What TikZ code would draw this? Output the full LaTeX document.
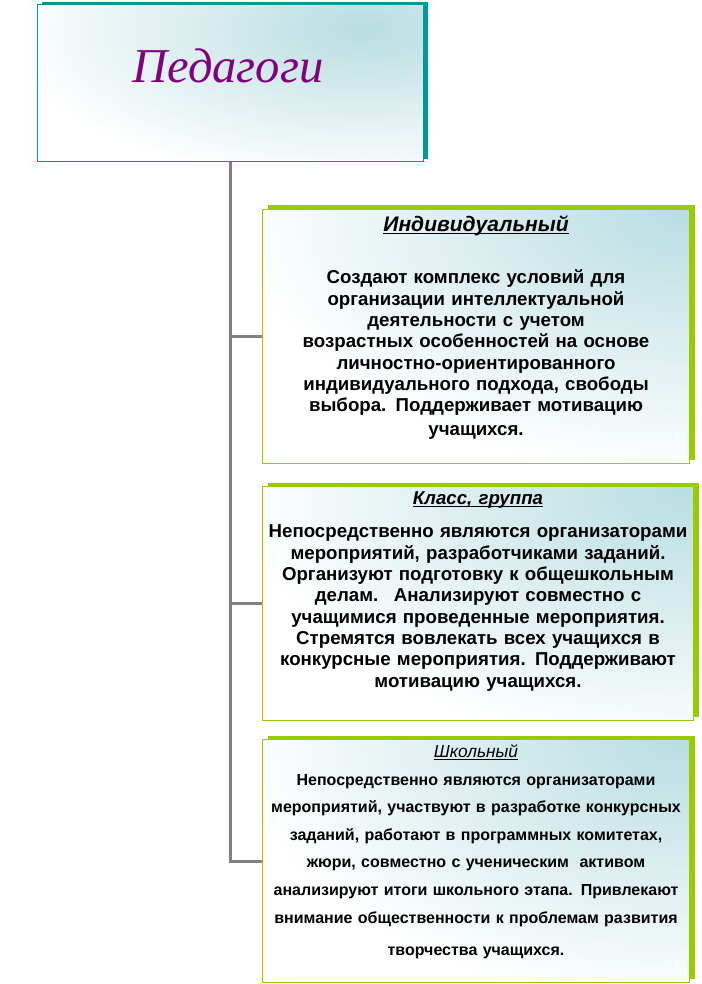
\documentclass[tikz,border=0pt]{standalone}
\usepackage{fontspec}
\setmainfont{Liberation Sans}
\newfontfamily\titleserif{Liberation Serif}
\usetikzlibrary{positioning,shadows}

\definecolor{tealedge}{RGB}{0,153,153}
\definecolor{limeedge}{RGB}{153,204,0}
\definecolor{paletint}{RGB}{184,221,225}
\definecolor{plum}{RGB}{128,0,128}
\definecolor{trunkgray}{RGB}{128,128,128}

% underlined heading, line just under the baseline
\newcommand\ulhead[1]{{\setbox0\hbox{#1}\rlap{\rule[-2pt]{\wd0}{0.75pt}}\box0}}

\begin{document}
\begin{tikzpicture}[
    x=0.75pt, y=-0.75pt,
    tintbox/.style={rectangle, inner sep=0pt, line width=0.75pt, fill=white},
    headbox/.style={tintbox, draw=tealedge, minimum width=289.5pt, minimum height=117.75pt,
        path picture={\shade[inner color=paletint, outer color=white]
            ([xshift=-45pt, yshift=-18pt]path picture bounding box.north east) ellipse [x radius=270pt, y radius=115pt];},
        drop shadow={shadow xshift=3.75pt, shadow yshift=2.6pt, fill=tealedge, opacity=1}},
    leafbox/.style={tintbox, draw=limeedge, minimum width=320.25pt,
        path picture={\shade[inner color=paletint, outer color=white]
            (path picture bounding box.north east) ellipse [x radius=340pt, y radius=200pt];},
        drop shadow={shadow xshift=4pt, shadow yshift=3pt, fill=limeedge, opacity=1}},
    titletext/.style={font=\titleserif\itshape\fontsize{36.5}{40}\selectfont, text=plum, inner sep=0pt},
    leaftext/.style={inner sep=0pt, align=center, text width=318pt, font=\bfseries\fontsize{14}{16}\selectfont},
    trunk/.style={draw=trunkgray, line width=2.25pt}
]
\useasboundingbox (0,0) rectangle (701,984);

% Head box
\node[headbox] (head) at (230,83.5) {};
\node[titletext, anchor=base] (headtxt) at (228,83) {Педагоги};

% Three levels
\node[leafbox, minimum height=190.5pt, anchor=north west] (indiv) at (262,209) {};
\node[leafbox, minimum width=323.25pt, minimum height=175.5pt, below=16.5pt of indiv.south west, anchor=north west] (klass) {};
\node[leafbox, minimum height=182.25pt, below=13.5pt of klass.south west, anchor=north west] (school) {};

% Texts
\node[leaftext, below=5pt of indiv.north] (indivtxt) {{\fontsize{15.8}{16}\selectfont\ulhead{\textit{Индивидуальный}}}\\[23pt]
    Создают комплекс условий для\\ организации интеллектуальной\\ деятельности с учетом\\
    возрастных особенностей на основе\\ личностно-ориентированного\\
    индивидуального подхода, свободы\\ выбора. Поддерживает мотивацию\\[2pt] учащихся.};
\node[leaftext, below=4pt of klass.north] (klasstxt) {{\fontsize{14}{14}\selectfont\ulhead{\textit{Класс, группа}}}\\[9pt]
    Непосредственно являются организаторами\\ мероприятий, разработчиками заданий.\\
    Организуют подготовку к общешкольным\\ делам.~ Анализируют совместно с\\
    учащимися проведенные мероприятия.\\ Стремятся вовлекать всех учащихся в\\
    конкурсные мероприятия. Поддерживают\\ мотивацию учащихся.};
\node[leaftext, font=\bfseries\fontsize{12}{20.7}\selectfont, below=4pt of school.north] (schooltxt) {{\mdseries\fontsize{13}{12}\selectfont\ulhead{\textit{Школьный}}}\\
    Непосредственно являются организаторами\\ мероприятий, участвуют в разработке конкурсных\\
    заданий, работают в программных комитетах,\\ жюри, совместно с ученическим~ активом\\
    анализируют итоги школьного этапа. Привлекают\\ внимание общественности к проблемам развития\\[4pt]
    творчества учащихся.};

% Connectors
\draw[trunk] (head.south) |- (school.west);
\draw[trunk] (head.south |- indiv.west) -- (indiv.west);
\draw[trunk] (head.south |- klass.west) -- (klass.west);

\end{tikzpicture}
\end{document}
